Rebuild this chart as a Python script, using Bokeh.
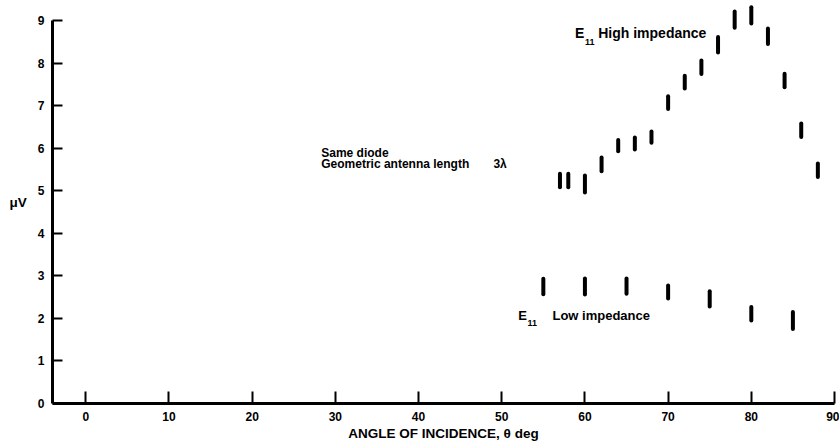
from bokeh.plotting import figure
from bokeh.models import Range1d, ColumnDataSource, FixedTicker
from bokeh.core.properties import value
from bokeh.embed import file_html
from bokeh.resources import INLINE

# ---- data ----
high_angle = [57, 58, 60, 62, 64, 66, 68, 70, 72, 74, 76, 78, 80, 82, 84, 86, 88]
high_uv = [5.24, 5.24, 5.16, 5.62, 6.06, 6.11, 6.26, 7.07, 7.55, 7.90, 8.43, 9.02, 9.12, 8.63, 7.59, 6.42, 5.48]
high_err = [0.16, 0.16, 0.20, 0.16, 0.13, 0.14, 0.13, 0.15, 0.15, 0.16, 0.18, 0.19, 0.19, 0.18, 0.16, 0.16, 0.16]

low_angle = [55, 60, 65, 70, 75, 80, 85]
low_uv = [2.75, 2.75, 2.76, 2.62, 2.46, 2.11, 1.95]
low_err = [0.18, 0.19, 0.18, 0.15, 0.18, 0.16, 0.20]

x_ticks = [0, 10, 20, 30, 40, 50, 60, 70, 80, 90]
y_ticks = [0, 1, 2, 3, 4, 5, 6, 7, 8, 9]

x_title = "ANGLE OF INCIDENCE, θ deg"
y_title = "μV"

# annotation texts and their anchor positions (data units)
high_texts = ["E", "High impedance"]
high_tx = [58.8, 61.6]
high_ty = [8.70, 8.70]
low_texts = ["E", "Low impedance"]
low_tx = [52.0, 56.1]
low_ty = [2.07, 2.07]
note_texts = ["Same diode", "Geometric antenna length", "3λ"]
note_x = [28.3, 28.3, 49.0]
note_y = [5.88, 5.63, 5.63]
sub_texts = ["11", "11"]
sub_x = [60.0, 53.1]
sub_y = [8.50, 1.88]

FONT = "Liberation Sans"

p = figure(width=839, height=446, output_backend="svg", toolbar_location=None,
           x_range=Range1d(-4, 90), y_range=Range1d(0, 9.47),
           min_border_left=52, min_border_right=5, min_border_top=0, min_border_bottom=43)
p.outline_line_color = None
p.xgrid.visible = False
p.ygrid.visible = False
p.background_fill_color = "white"
p.border_fill_color = "white"

hs = ColumnDataSource(dict(x=high_angle,
                           y0=[v - e for v, e in zip(high_uv, high_err)],
                           y1=[v + e for v, e in zip(high_uv, high_err)]))
ls = ColumnDataSource(dict(x=low_angle,
                           y0=[v - e for v, e in zip(low_uv, low_err)],
                           y1=[v + e for v, e in zip(low_uv, low_err)]))
p.segment(x0="x", y0="y0", x1="x", y1="y1", source=hs, line_color="black", line_width=4, line_cap="round")
p.segment(x0="x", y0="y0", x1="x", y1="y1", source=ls, line_color="black", line_width=4, line_cap="round")

common = dict(text_font=value(FONT), text_font_style="bold", text_baseline="middle",
              text_align="left", text_color="black")
p.text(x=high_tx, y=high_ty, text=high_texts, text_font_size="14px", **common)
p.text(x=low_tx, y=low_ty, text=low_texts, text_font_size="13px", **common)
p.text(x=note_x, y=note_y, text=note_texts, text_font_size="12px", **common)
p.text(x=sub_x, y=sub_y, text=sub_texts, text_font_size="9px", **common)

for ax in (p.xaxis[0], p.yaxis[0]):
    ax.axis_line_width = 3
    ax.axis_line_color = "black"
    ax.major_tick_out = 0
    ax.major_tick_line_width = 2
    ax.major_tick_line_color = "black"
    ax.minor_tick_line_color = None
    ax.major_label_text_font = FONT
    ax.major_label_text_font_style = "bold"
    ax.major_label_text_font_size = "12px"
    ax.major_label_text_color = "black"
    ax.axis_label_text_font = FONT
    ax.axis_label_text_font_style = "bold"
    ax.axis_label_text_font_size = "13.5px"
    ax.axis_label_text_color = "black"

p.xaxis[0].ticker = FixedTicker(ticks=x_ticks)
p.yaxis[0].ticker = FixedTicker(ticks=y_ticks)
p.yaxis[0].bounds = (0, 9)
p.xaxis[0].major_tick_in = 12
p.yaxis[0].major_tick_in = 10
p.xaxis[0].major_label_standoff = 8
p.yaxis[0].major_label_standoff = 8
p.xaxis[0].axis_label = x_title
p.xaxis[0].axis_label_standoff = 2
p.yaxis[0].axis_label = y_title
p.yaxis[0].axis_label_orientation = "horizontal"
p.yaxis[0].axis_label_standoff = 8

open("out.html", "w").write(file_html(p, INLINE))
